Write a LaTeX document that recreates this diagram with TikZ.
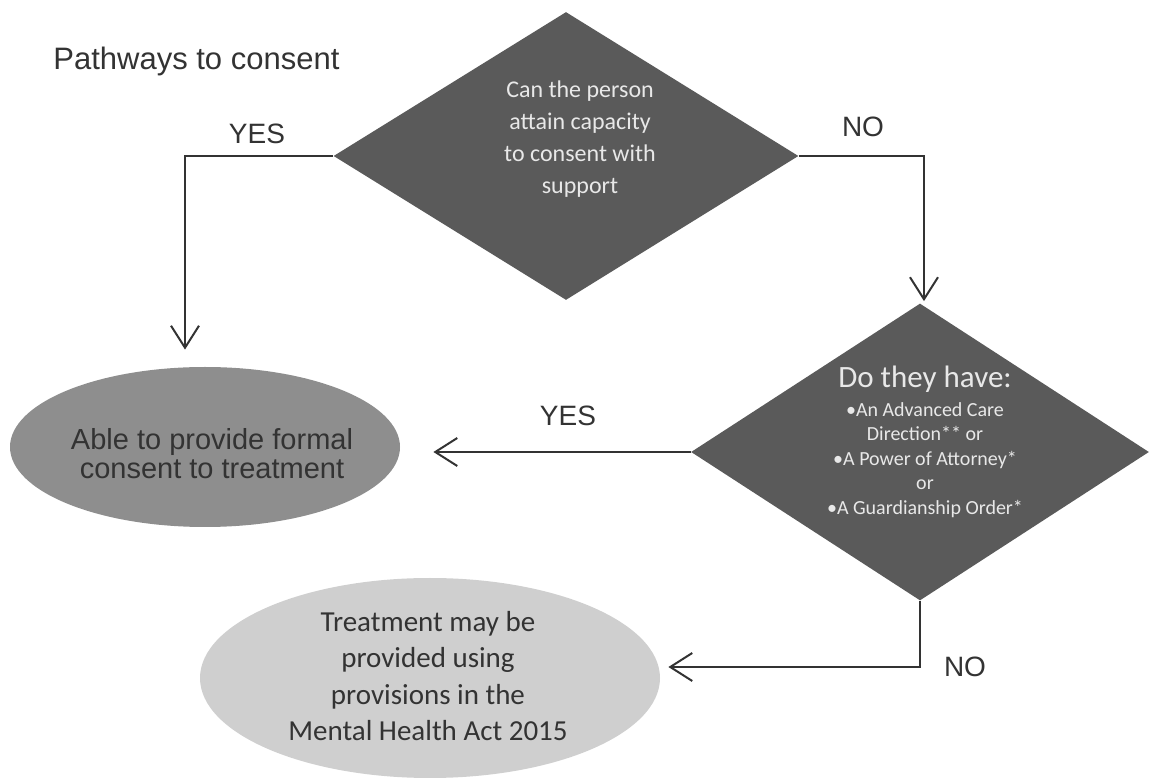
\documentclass[tikz,border=0pt]{standalone}
\usepackage{fontspec}
\setmainfont{Liberation Sans}
\newfontfamily\calib{Carlito}
\usetikzlibrary{shapes.geometric,arrows.meta}
\definecolor{dgray}{HTML}{5A5A5A}
\definecolor{mgray}{HTML}{8E8E8E}
\definecolor{lgray}{HTML}{CFCFCF}
\definecolor{ink}{HTML}{333333}
\definecolor{wtxt}{HTML}{E8E8E8}
\begin{document}
\begin{tikzpicture}[x=0.5pt,y=-0.5pt,
  decision/.style={diamond, fill=dgray, draw=none, inner sep=0pt},
  result/.style={ellipse, draw=none, inner sep=0pt},
  arr/.style={draw=ink, line width=1pt, -{Straight Barb[length=11pt,width=14pt]}},
  lbl/.style={text=ink, font=\fontsize{14}{16}\selectfont, inner sep=0pt},
  dtext/.style={text=wtxt, align=center, inner sep=0pt}]
\useasboundingbox (0,0) rectangle (1153,780);
\node[anchor=west, text=ink, font=\fontsize{15.5}{18}\selectfont, inner sep=0pt] (title) at (53,61) {Pathways to consent};

\node[decision, minimum width=232.5pt, minimum height=144pt] (d1) at (566,156) {};
\node[dtext, font=\calib\fontsize{12}{16}\selectfont] (d1t) at (580,139) {Can the person\\attain capacity\\to consent with\\support};

\node[decision, minimum width=229pt, minimum height=148.5pt] (d2) at (920,452) {};
\node[dtext, font=\calib\fontsize{15.5}{17}\selectfont] (d2h) at (925,379) {Do they have:};
\node[dtext, font=\calib\fontsize{10}{12.2}\selectfont] (d2t) at (925,460) {\textbullet An Advanced Care\\Direction** or\\\textbullet A Power of Attorney*\\or\\\textbullet A Guardianship Order*};

\node[result, fill=mgray, minimum width=195pt, minimum height=80pt] (e1) at (205,447) {};
\node[text=ink, align=center, inner sep=0pt, font=\fontsize{14.5}{14.5}\selectfont] (e1t) at (212,454) {Able to provide formal\\consent to treatment};

\node[result, fill=lgray, minimum width=230pt, minimum height=100pt] (e2) at (430,678) {};
\node[text=ink, align=center, inner sep=0pt, font=\calib\fontsize{14.5}{18.3}\selectfont] (e2t) at (428,676) {Treatment may be\\provided using\\provisions in the\\Mental Health Act 2015};

\draw[arr] (d1.west) -| ([xshift=-10pt,yshift=8.5pt]e1.north);
\draw[arr] (d1.east) -| ([xshift=2pt,yshift=1pt]d2.north);
\draw[arr, shorten >=16.5pt] (d2.west) -- (d2.west -| e1.east);
\draw[arr] (d2.south) |- ([xshift=4pt,yshift=5.5pt]e2.east);

\node[lbl] (yes1) at (257,134) {YES};
\node[lbl] (no1) at (863,127) {NO};
\node[lbl] (yes2) at (568,416) {YES};
\node[lbl] (no2) at (965,667) {NO};
\end{tikzpicture}
\end{document}
